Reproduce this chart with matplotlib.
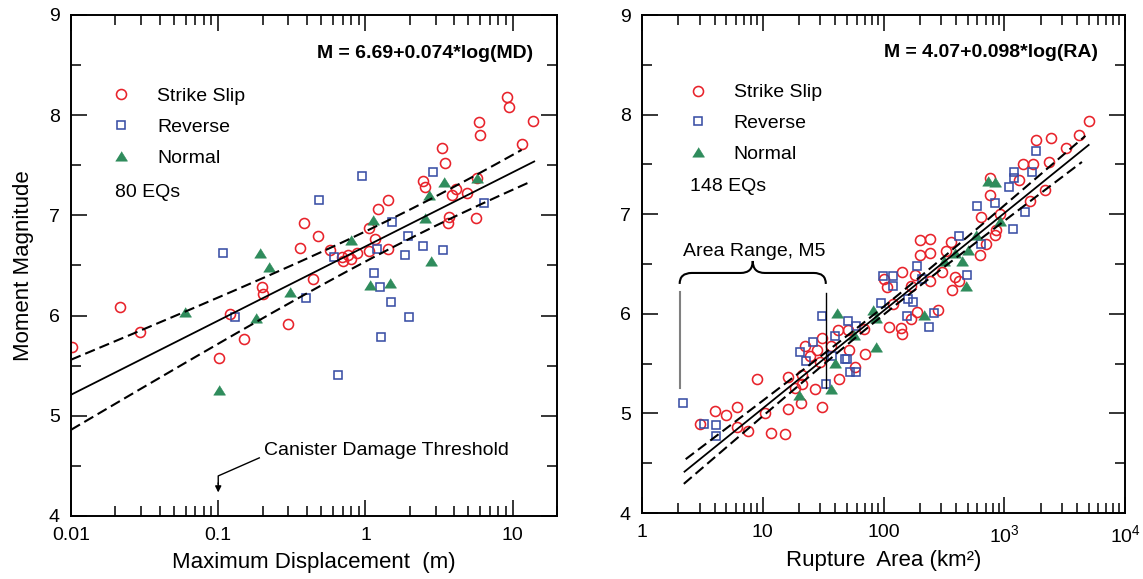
import matplotlib
matplotlib.use('Agg')
import matplotlib.pyplot as plt
import numpy as np
from matplotlib.path import Path
from matplotlib.patches import PathPatch
from matplotlib.ticker import FixedLocator, FixedFormatter, LogLocator, MultipleLocator, NullFormatter

plt.rcParams['font.family'] = ['Liberation Sans', 'DejaVu Sans']
plt.rcParams['mathtext.fontset'] = 'custom'
plt.rcParams['mathtext.rm'] = 'Liberation Sans'
plt.rcParams['mathtext.it'] = 'Liberation Sans:italic'
plt.rcParams['mathtext.bf'] = 'Liberation Sans:bold'

# --- Maximum displacement (m) vs moment magnitude ---
md_ss_x = [0.0101, 0.0214, 0.0292, 0.1007, 0.1197, 0.150, 0.198, 0.201, 0.297, 0.383,
           0.36, 0.438, 0.476, 0.578, 0.697, 0.703, 0.760, 0.793, 0.875, 1.05,
           1.054, 1.17, 1.213, 1.433, 1.426, 2.47, 2.55, 3.31, 3.49, 3.67,
           3.61, 3.85, 4.12, 4.93, 5.65, 5.92, 5.99, 9.16, 9.5, 11.6, 13.8, 5.72]
md_ss_m = [5.69, 6.09, 5.84, 5.58, 6.02, 5.77, 6.29, 6.22, 5.92, 6.92,
           6.67, 6.37, 6.79, 6.65, 6.58, 6.54, 6.60, 6.56, 6.62, 6.64,
           6.87, 6.76, 7.06, 7.15, 6.66, 7.34, 7.28, 7.67, 7.52, 6.98,
           6.92, 7.20, 7.26, 7.22, 6.97, 7.93, 7.80, 8.18, 8.08, 7.71, 7.94, 7.37]
md_rev_x = [0.107, 0.130, 0.397, 0.484, 0.946, 0.611, 1.195, 1.51, 1.135, 1.26,
            1.48, 1.99, 1.28, 1.87, 1.96, 2.46, 3.34, 2.86, 6.34, 0.65]
md_rev_m = [6.62, 5.99, 6.18, 7.15, 7.39, 6.58, 6.66, 6.93, 6.43, 6.29,
            6.14, 5.99, 5.79, 6.60, 6.79, 6.69, 6.65, 7.43, 7.12, 5.41]
md_nor_x = [0.0596, 0.1007, 0.180, 0.193, 0.220, 0.306, 0.80, 1.12, 1.08, 1.47,
            2.55, 2.69, 2.79, 3.39, 5.72]
md_nor_m = [6.04, 5.26, 5.98, 6.62, 6.49, 6.24, 6.75, 6.95, 6.31, 6.33,
            6.97, 7.20, 6.54, 7.33, 7.37]

# --- Rupture area (km^2) vs moment magnitude ---
ra_ss_x = [3.02, 3.99, 4.99, 6.07, 6.07, 7.62, 8.93, 10.4, 11.6, 15.2,
           16.2, 16.3, 18.4, 20.7, 21.3, 21.3, 22.3, 24.5, 28.4, 27.3,
           29.7, 30.8, 31.2, 36.8, 42.1, 43.1, 50.9, 51.9, 58.2, 70.4,
           68.6, 2445, 1837, 2340, 1726, 1426, 1313, 2168, 1641, 755,
           755, 914, 644, 857, 831, 700, 625, 364, 199, 241,
           202, 244, 331, 142, 183, 106, 100, 170, 241, 307,
           391, 419, 371, 120, 190, 282, 170, 112, 139, 143,
           5010, 4197, 3258]
ra_ss_m = [4.89, 5.02, 4.98, 5.06, 4.86, 4.82, 5.35, 5.00, 4.80, 4.79,
           5.37, 5.04, 5.26, 5.10, 5.30, 5.39, 5.68, 5.58, 5.64, 5.25,
           5.52, 5.06, 5.76, 5.68, 5.84, 5.35, 5.84, 5.64, 5.47, 5.60,
           5.85, 7.77, 7.74, 7.52, 7.50, 7.50, 7.34, 7.24, 7.13, 7.36,
           7.19, 7.00, 6.97, 6.84, 6.79, 6.70, 6.59, 6.72, 6.74, 6.75,
           6.59, 6.61, 6.63, 6.42, 6.39, 6.27, 6.35, 6.28, 6.33, 6.42,
           6.37, 6.33, 6.24, 6.10, 6.02, 6.04, 5.95, 5.87, 5.86, 5.80,
           7.94, 7.80, 7.66]
ra_rev_x = [2.2, 3.28, 4.12, 4.09, 20.5, 23.0, 26.1, 31.0, 33.3, 40.0,
            50.9, 59.7, 37.5, 48, 50, 53.2, 58.9, 99, 121, 120,
            190, 208, 96, 160, 175, 157, 238, 260, 494, 422,
            637, 597, 832, 1092, 1194, 1194, 1490, 1178, 1683, 1828]
ra_rev_m = [5.10, 4.89, 4.88, 4.77, 5.62, 5.53, 5.72, 5.98, 5.30, 5.78,
            5.93, 5.88, 5.58, 5.55, 5.55, 5.42, 5.42, 6.38, 6.38, 6.28,
            6.48, 6.35, 6.11, 6.15, 6.12, 5.98, 5.87, 6.01, 6.39, 6.78,
            6.70, 7.08, 7.11, 7.27, 7.42, 7.36, 7.02, 6.85, 7.42, 7.63]
ra_nor_x = [19.8, 36.4, 39.5, 41, 56.7, 82, 87, 86, 216, 315,
            388, 449, 478, 500, 586, 731, 832, 914]
ra_nor_m = [5.18, 5.24, 5.51, 6.01, 5.79, 6.04, 5.96, 5.67, 5.99, 6.53,
            6.61, 6.53, 6.28, 6.645, 6.79, 7.33, 7.32, 6.93]

# regression M = a + b*log10(X); band half-width sqrt(p + q*(log10 X - c)^2)
md_fit = (6.69, 0.74)
md_band = (0.0208, 0.0192, 0.3)
ra_fit = (4.07, 0.98)
ra_band = (0.0016, 0.0044, 2.0)

RED = '#e8222a'
BLUE = '#3a4fa5'
GREEN = '#2f8c5c'
TRIANGLE = [(-1, -0.78), (1, -0.78), (0, 0.82)]  # slightly squat filled triangle

fig = plt.figure(figsize=(11.43, 5.79), dpi=100)
ax1 = fig.add_axes([71 / 1143, 1 - 516 / 579, 486 / 1143, 501 / 579])
ax2 = fig.add_axes([642 / 1143, 1 - 513 / 579, 483 / 1143, 498 / 579])


def scatter_sets(ax, ss, rev, nor):
    ax.plot(*ss, ls='none', marker='o', ms=7.2, mfc='none', mec=RED, mew=1.15,
            label='Strike Slip', zorder=2)
    ax.plot(*rev, ls='none', marker='s', ms=6.4, mfc='none', mec=BLUE, mew=1.15,
            label='Reverse', zorder=2)
    ax.plot(*nor, ls='none', marker=TRIANGLE, ms=8.6, mfc=GREEN, mec=GREEN, mew=0.4,
            label='Normal', zorder=2)


def fit_lines(ax, fit, bnd, solid, upper, lower):
    a, b = fit
    p, q, c = bnd
    for (x0, x1), sign, style in [(solid, 0, '-'), (upper, 1, (0, (5, 2.4))),
                                  (lower, -1, (0, (5, 2.4)))]:
        x = np.logspace(np.log10(x0), np.log10(x1), 200)
        u = np.log10(x)
        m = a + b * u + sign * np.sqrt(p + q * (u - c) ** 2)
        ax.plot(x, m, color='black', ls=style, lw=1.3 if sign == 0 else 1.5, zorder=3)


def style_axes(ax):
    ax.set_ylim(4, 9)
    ax.yaxis.set_major_locator(MultipleLocator(1))
    ax.yaxis.set_minor_locator(MultipleLocator(0.5))
    ax.xaxis.set_minor_locator(LogLocator(base=10, subs=np.arange(2, 10), numticks=20))
    ax.xaxis.set_minor_formatter(NullFormatter())
    ax.tick_params(which='both', direction='in', top=True, right=True, width=1.1,
                   labelsize=14, pad=8)
    ax.tick_params(which='major', length=11.5)
    ax.tick_params(which='minor', length=7)
    for s in ax.spines.values():
        s.set_linewidth(1.4)


def legend_block(ax, x, y):
    ax.legend(loc='upper left', bbox_to_anchor=(x, y), frameon=False, fontsize=14,
              handlelength=1.0, handletextpad=1.36, labelspacing=0.68,
              borderaxespad=0, borderpad=0)


# left panel
ax1.set_xscale('log')
ax1.set_xlim(0.01, 20)
scatter_sets(ax1, (md_ss_x, md_ss_m), (md_rev_x, md_rev_m), (md_nor_x, md_nor_m))
fit_lines(ax1, md_fit, md_band, (0.01, 14), (0.01, 11.5), (0.01, 13))
style_axes(ax1)
ax1.xaxis.set_major_locator(FixedLocator([0.01, 0.1, 1, 10]))
ax1.xaxis.set_major_formatter(FixedFormatter(['0.01', '0.1', '1', '10']))
ax1.set_xlabel('Maximum Displacement  (m)', fontsize=16, labelpad=6)
ax1.set_ylabel('Moment Magnitude', fontsize=16, labelpad=11)
legend_block(ax1, 0.083, 0.855)
ax1.text(0.0905, 0.646, '80 EQs', transform=ax1.transAxes, fontsize=14, va='center')
ax1.text(0.951, 0.924, 'M = 6.69+0.074*log(MD)', transform=ax1.transAxes,
         fontsize=14, fontweight='bold', ha='right', va='center')

# canister damage threshold marker at 0.1 m
ax1.text(0.205, 4.65, 'Canister Damage Threshold', fontsize=14, ha='left', va='center')
ax1.plot([0.19, 0.1, 0.1], [4.58, 4.40, 4.32], color='black', lw=1.0, zorder=3)
ax1.annotate('', xy=(0.1, 4.235), xytext=(0.1, 4.33),
             arrowprops=dict(arrowstyle='-|>', color='black', lw=1.0,
                             mutation_scale=9, shrinkA=0, shrinkB=0))

# right panel
ax2.set_xscale('log')
ax2.set_xlim(1, 1e4)
scatter_sets(ax2, (ra_ss_x, ra_ss_m), (ra_rev_x, ra_rev_m), (ra_nor_x, ra_nor_m))
fit_lines(ax2, ra_fit, ra_band, (2.25, 5000), (2.3, 4700), (2.22, 4400))
style_axes(ax2)
ax2.xaxis.set_major_locator(FixedLocator([1, 10, 100, 1e3, 1e4]))
ax2.xaxis.set_major_formatter(FixedFormatter(['1', '10', '100', '$10^3$', '$10^4$']))
ax2.set_xlabel('Rupture  Area (km²)', fontsize=16, labelpad=3)
legend_block(ax2, 0.095, 0.862)
ax2.text(0.099, 0.655, '148 EQs', transform=ax2.transAxes, fontsize=14, va='center')
ax2.text(0.945, 0.924, 'M = 4.07+0.098*log(RA)', transform=ax2.transAxes,
         fontsize=14, fontweight='bold', ha='right', va='center')

# area range bracket for M5 events
x_lo, x_hi = 2.05, 33.3
ax2.plot([x_lo, x_lo], [5.26, 6.22], color='#808080', lw=1.5, zorder=3)
ax2.plot([x_hi, x_hi], [5.26, 6.21], color='black', lw=1.0, zorder=3)
to_axes = ax2.transAxes.inverted().transform
(bx0, by_end), (bx1, by_mid) = to_axes(ax2.transData.transform([(x_lo, 6.30), (x_hi, 6.41)]))
bxc, by_tip = to_axes(ax2.transData.transform([(np.sqrt(x_lo * x_hi), 6.53)]))[0]
rx = 0.025
verts = [(bx0, by_end), (bx0, by_mid), (bx0 + rx, by_mid), (bxc - rx, by_mid),
         (bxc, by_mid), (bxc, by_tip), (bxc, by_mid), (bxc + rx, by_mid),
         (bx1 - rx, by_mid), (bx1, by_mid), (bx1, by_end)]
codes = [Path.MOVETO, Path.CURVE3, Path.CURVE3, Path.LINETO,
         Path.CURVE3, Path.CURVE3, Path.CURVE3, Path.CURVE3,
         Path.LINETO, Path.CURVE3, Path.CURVE3]
ax2.add_patch(PathPatch(Path(verts, codes), transform=ax2.transAxes,
                        fill=False, lw=1.5, color='black', zorder=3))
ax2.text(8.45, 6.63, 'Area Range, M5', fontsize=14, ha='center', va='center')

fig.savefig('out.png', dpi=100)
